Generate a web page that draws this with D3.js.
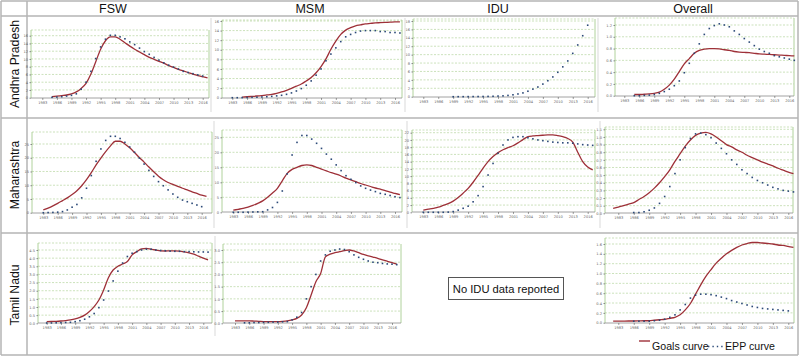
<!DOCTYPE html>
<html>
<head>
<meta charset="utf-8">
<script src="https://cdn.jsdelivr.net/npm/d3@7"></script>
<style>
  body { margin: 0; background: #fff; }
  svg { display: block; font-family: "Liberation Sans", Arial, sans-serif; }
</style>
</head>
<body>
<div id="chart"></div>
<script>
// ---- data (HIV prevalence, %), one value per year 1982..2017, null = no value
const years = d3.range(1982, 2018);
const xTickYears = [1983, 1986, 1989, 1992, 1995, 1998, 2001, 2004, 2007, 2010, 2013, 2016];
const states = ["Andhra Pradesh", "Maharashtra", "Tamil Nadu"];
const groups = ["FSW", "MSM", "IDU", "Overall"];

const apFswGoals = [null,null,null,0.26,0.4,0.55,0.7,1.0,1.5,2.4,3.7,6.1,9.3,12.5,14.7,15.7,15.7,15.1,14.2,13.3,12.5,11.8,11.1,10.4,9.9,9.4,8.9,8.3,7.8,7.3,6.9,6.5,6.1,5.7,5.4,5.1];
const apFswEpp   = [null,null,null,0.1,0.17,0.26,0.43,0.6,1.0,2.2,4.0,6.8,10.1,13.1,15.1,16.1,16.1,15.7,15.2,14.4,13.7,12.8,11.9,11.2,10.4,9.7,9.0,8.4,7.9,7.4,6.8,6.5,6.2,5.9,5.6,null];
const apMsmGoals = [null,null,null,0.14,0.2,0.27,0.35,0.45,0.57,0.7,0.92,1.2,1.55,1.95,2.4,2.85,3.5,4.2,5.2,6.5,8.1,10.1,11.8,13.2,14.1,14.6,15.0,15.2,15.4,15.5,15.6,15.65,15.7,15.75,15.8,15.8];
const apMsmEpp   = [null,0,0,0.02,0.05,0.08,0.1,0.15,0.2,0.28,0.38,0.5,0.7,1.0,1.4,1.9,2.6,3.5,4.7,6.0,7.7,9.1,10.4,11.7,12.7,13.2,13.6,13.9,14.0,14.0,14.0,13.8,13.8,13.6,13.6,13.5];
const apIduEpp   = [null,null,null,null,null,null,null,0,0.01,0.01,0.02,0.03,0.04,0.05,0.07,0.1,0.15,0.2,0.3,0.45,0.65,0.9,1.3,1.8,2.3,3.0,3.8,4.7,5.8,7.1,8.5,10.3,12.3,14.5,17.0,null];
const apAllGoals = [null,null,null,0.02,0.02,0.025,0.03,0.04,0.06,0.11,0.18,0.28,0.41,0.54,0.63,0.72,0.77,0.79,0.8,0.8,0.795,0.78,0.77,0.75,0.74,0.735,0.73,0.72,0.71,0.705,0.7,0.695,0.69,0.685,0.68,0.675];
const apAllEpp   = [null,null,null,0,0,0.005,0.01,0.02,0.04,0.07,0.11,0.17,0.25,0.39,0.55,0.72,0.88,1.04,1.14,1.19,1.22,1.2,1.17,1.1,1.04,0.97,0.91,0.85,0.79,0.75,0.72,0.68,0.66,0.64,0.62,0.6];

const mhFswGoals = [null,1.0,1.7,2.5,3.4,4.4,5.4,6.6,8.0,9.8,12.0,14.6,17.4,19.9,22.2,24.3,26.0,26.0,25.0,23.6,21.9,20.1,18.4,16.6,14.9,13.3,12.0,11.0,10.3,9.6,8.9,8.3,7.6,7.0,6.4,5.9];
const mhFswEpp   = [null,0,0.05,0.1,0.2,0.4,1.0,2.0,3.0,5.4,8.9,13.5,18.7,23.2,26.3,27.8,27.8,27.0,25.6,23.9,22.0,19.9,17.7,15.4,13.2,11.3,9.8,8.3,6.8,5.6,4.6,4.0,3.4,2.8,2.2,null];
const mhMsmGoals = [null,0.7,1.0,1.3,1.7,2.3,3.0,3.8,5.0,6.4,8.0,10.5,13.0,14.3,15.0,15.6,15.8,15.6,15.0,14.4,13.8,13.2,12.7,12.1,11.4,10.8,10.2,9.6,9.1,8.6,8.1,7.7,7.2,6.7,6.3,5.9];
const mhMsmEpp   = [null,0,0,0,0.05,0.1,0.15,0.2,0.8,1.6,3.3,7.1,12.8,19.1,23.3,25.6,25.6,24.4,23.0,21.3,19.4,17.7,15.8,13.9,12.2,11.0,9.9,8.8,8.0,7.4,6.9,6.3,6.0,5.6,5.2,4.9];
const mhIduGoals = [null,0.6,0.85,1.1,1.4,1.9,2.4,3.1,4.1,5.3,6.6,8.3,10.2,12.2,14.0,15.4,16.5,17.3,17.9,18.4,19.2,20.1,20.9,21.1,21.2,21.3,21.4,21.4,21.2,20.9,20.4,19.4,16.6,14.0,12.5,11.7];
const mhIduEpp   = [null,0,0,0,0,0,0.05,0.2,0.6,1.1,1.7,2.9,4.6,7.1,10.3,13.5,16.3,18.6,20.0,20.7,20.9,20.9,20.6,20.3,20.0,19.8,19.6,19.4,19.3,19.2,19.2,19.1,18.9,18.7,18.6,18.5];
const mhAllGoals = [0.065,0.08,0.1,0.12,0.14,0.18,0.22,0.27,0.33,0.4,0.48,0.57,0.68,0.78,0.88,0.96,1.02,1.05,1.06,1.04,1.0,0.95,0.9,0.87,0.83,0.8,0.76,0.73,0.7,0.67,0.645,0.62,0.59,0.565,0.54,0.52];
const mhAllEpp   = [null,null,null,null,0.01,0.01,0.02,0.04,0.07,0.13,0.22,0.35,0.52,0.7,0.86,0.98,1.04,1.05,1.03,0.99,0.92,0.85,0.78,0.7,0.64,0.57,0.52,0.47,0.43,0.4,0.37,0.34,0.32,0.3,0.29,0.28];

const tnFswGoals = [null,0.1,0.11,0.12,0.14,0.17,0.21,0.27,0.36,0.5,0.72,1.02,1.43,2.05,2.8,3.27,3.5,3.64,3.79,4.2,4.4,4.57,4.6,4.55,4.5,4.45,4.44,4.45,4.45,4.43,4.38,4.32,4.24,4.12,4.0,3.9];
const tnFswEpp   = [null,0.02,0.02,0.03,0.04,0.05,0.06,0.1,0.16,0.25,0.4,0.6,0.96,1.43,1.98,2.6,3.2,3.7,4.1,4.3,4.4,4.5,4.55,4.55,4.5,4.47,4.45,4.43,4.42,4.42,4.4,4.4,4.39,4.38,4.38,4.37];
const tnMsmGoals = [null,0.1,0.1,0.1,0.1,0.09,0.08,0.07,0.07,0.07,0.07,0.08,0.1,0.14,0.2,0.34,0.64,1.16,1.7,2.04,2.72,2.83,2.89,2.93,2.97,3.0,2.96,2.89,2.82,2.76,2.71,2.66,2.6,2.54,2.48,2.42];
const tnMsmEpp   = [null,null,null,0.02,0.02,0.03,0.03,0.04,0.04,0.05,0.05,0.06,0.07,0.14,0.25,0.44,1.0,1.5,2.0,2.55,2.8,2.95,3.0,3.04,3.02,2.93,2.8,2.7,2.62,2.55,2.5,2.48,2.45,2.43,2.42,2.4];
const tnAllGoals = [0.03,0.03,0.033,0.035,0.035,0.037,0.04,0.04,0.05,0.06,0.07,0.09,0.11,0.16,0.26,0.39,0.58,0.77,0.94,1.08,1.21,1.31,1.4,1.47,1.53,1.58,1.61,1.63,1.63,1.62,1.61,1.6,1.58,1.57,1.55,1.53];
const tnAllEpp   = [null,null,null,null,0.03,0.03,0.03,0.03,0.04,0.05,0.07,0.11,0.16,0.26,0.37,0.5,0.56,0.58,0.58,0.57,0.55,0.52,0.49,0.45,0.42,0.39,0.36,0.33,0.31,0.29,0.28,0.27,0.26,0.25,0.24,null];

// y tick labels per panel
const ticksStep2to16 = [0, 2, 4, 6, 8, 10, 12, 14, 16];
const ticksStep2to18 = [0, 2, 4, 6, 8, 10, 12, 14, 16, 18];
const ticksStep2to22 = [0, 2, 4, 6, 8, 10, 12, 14, 16, 18, 20, 22];
const ticksStep5to25 = [0, 5, 10, 15, 20, 25];
const ticksTenthTo11 = [0, 0.1, 0.2, 0.3, 0.4, 0.5, 0.6, 0.7, 0.8, 0.9, 1.0, 1.1];
const ticksFifthTo12 = [0, 0.2, 0.4, 0.6, 0.8, 1.0, 1.2];
const ticksFifthTo16 = [0, 0.2, 0.4, 0.6, 0.8, 1.0, 1.2, 1.4, 1.6];
const ticksHalfTo45  = [0, 0.5, 1.0, 1.5, 2.0, 2.5, 3.0, 3.5, 4.0, 4.5];
const ticksHalfTo30  = [0, 0.5, 1.0, 1.5, 2.0, 2.5, 3.0];

// ---- layout of each small chart (pixel positions in the page)
const panels = [
  {goals: apFswGoals, epp: apFswEpp, ticks: ticksStep2to16, fmt: "d",   L: 31,  R: 209, T: 30,  B: 98,  x83: 42.3,  x16: 202.7, y0: 97.7,  yTopPx: 35.7},
  {goals: apMsmGoals, epp: apMsmEpp, ticks: ticksStep2to16, fmt: "d",   L: 222, R: 402, T: 20,  B: 98,  x83: 232.3, x16: 395,   y0: 97.7,  yTopPx: 21},
  {goals: null,       epp: apIduEpp, ticks: ticksStep2to18, fmt: "d",   L: 413, R: 595, T: 19,  B: 97,  x83: 423.3, x16: 587.7, y0: 96.7,  yTopPx: 21},
  {goals: apAllGoals, epp: apAllEpp, ticks: ticksFifthTo12, fmt: ".1f", L: 615, R: 794, T: 18,  B: 96,  x83: 624.3, x16: 789.3, y0: 95.7,  yTopPx: 25},
  {goals: mhFswGoals, epp: mhFswEpp, ticks: ticksStep5to25, fmt: "d",   L: 32,  R: 212, T: 132, B: 213, x83: 43.3,  x16: 201.7, y0: 212.7, yTopPx: 144},
  {goals: mhMsmGoals, epp: mhMsmEpp, ticks: ticksStep5to25, fmt: "d",   L: 222, R: 402, T: 130, B: 212, x83: 233.3, x16: 395,   y0: 212.3, yTopPx: 137.3},
  {goals: mhIduGoals, epp: mhIduEpp, ticks: ticksStep2to22, fmt: "d",   L: 412, R: 595, T: 130, B: 212, x83: 423.3, x16: 587.7, y0: 212.3, yTopPx: 132.7},
  {goals: mhAllGoals, epp: mhAllEpp, ticks: ticksTenthTo11, fmt: ".1f", L: 605, R: 793, T: 127, B: 213, x83: 618.3, x16: 788.3, y0: 213.3, yTopPx: 129.3},
  {goals: tnFswGoals, epp: tnFswEpp, ticks: ticksHalfTo45,  fmt: ".1f", L: 38,  R: 212, T: 243, B: 323, x83: 46.7,  x16: 203.3, y0: 323.3, yTopPx: 250},
  {goals: tnMsmGoals, epp: tnMsmEpp, ticks: ticksHalfTo30,  fmt: ".1f", L: 223, R: 401, T: 244, B: 323, x83: 235,   x16: 392,   y0: 323.3, yTopPx: 250},
  {goals: tnAllGoals, epp: tnAllEpp, ticks: ticksFifthTo16, fmt: ".1f", L: 605, R: 794, T: 238, B: 323, x83: 618.3, x16: 788.3, y0: 322.7, yTopPx: 244}
];

const width = 800, height = 358;
const goalsColor = "#9e3038", eppColor = "#2c4a78", gridColor = "#a9cf8e";

const svg = d3.select("#chart").append("svg")
  .attr("width", width)
  .attr("height", height);

// faint edges of the pasted chart images
const edgeColor = "#d9d9d9";
const imageEdges = [
  [211, 18, 112], [405, 18, 112], [598, 18, 112],
  [214, 121, 228], [407, 121, 228], [600, 121, 228],
  [215, 236, 336]
];
imageEdges.forEach(e => svg.append("line").attr("x1", e[0]).attr("x2", e[0]).attr("y1", e[1]).attr("y2", e[2])
  .attr("stroke", edgeColor).attr("stroke-width", 1));

// table frame
const tableColor = "#b4b4b4";
const hLines = [1, 16, 118, 233, 355];
svg.selectAll("line.hrow").data(hLines).join("line")
  .attr("x1", 1).attr("x2", 798).attr("y1", d => d).attr("y2", d => d)
  .attr("stroke", tableColor).attr("stroke-width", 1.5);
[1, 27, 798].forEach(xp => {
  svg.append("line").attr("x1", xp).attr("x2", xp).attr("y1", 1).attr("y2", 355)
    .attr("stroke", tableColor).attr("stroke-width", 1.5);
});

// column headers
const headerX = [113, 310, 498, 693];
svg.selectAll("text.head").data(groups).join("text")
  .attr("x", (d, i) => headerX[i]).attr("y", 12.5)
  .attr("text-anchor", "middle").attr("font-size", 12.5).attr("fill", "#111")
  .text(d => d);

// row labels
const rowY = [64, 175, 295];
svg.selectAll("text.row").data(states).join("text")
  .attr("transform", (d, i) => `translate(19,${rowY[i]}) rotate(-90)`)
  .attr("text-anchor", "middle").attr("font-size", 12.2).attr("fill", "#111")
  .text(d => d);

// small charts
panels.forEach(p => {
  const g = svg.append("g");
  const x = d3.scaleLinear().domain([1983, 2016]).range([p.x83, p.x16]);
  const y = d3.scaleLinear().domain([0, p.ticks[p.ticks.length - 1]]).range([p.y0, p.yTopPx]);

  // dashed grid
  g.selectAll("line.grid").data(p.ticks.slice(1)).join("line")
    .attr("x1", p.L).attr("x2", p.R)
    .attr("y1", d => y(d)).attr("y2", d => y(d))
    .attr("stroke", gridColor).attr("stroke-width", 0.6).attr("stroke-dasharray", "2,1.5");
  g.append("line").attr("x1", p.L).attr("x2", p.R).attr("y1", p.T).attr("y2", p.T)
    .attr("stroke", gridColor).attr("stroke-width", 0.6).attr("stroke-dasharray", "2,1.5");
  // side lines
  [p.L, p.R].forEach(xp => g.append("line").attr("x1", xp).attr("x2", xp).attr("y1", p.T).attr("y2", p.B)
    .attr("stroke", "#9cc784").attr("stroke-width", 0.8));

  // y axis
  const ya = g.append("g").attr("transform", `translate(${p.L},0)`)
    .call(d3.axisLeft(y).tickValues(p.ticks).tickFormat(d3.format(p.fmt)).tickSize(1.5).tickPadding(1.5));
  ya.select(".domain").remove();
  ya.selectAll("line").attr("stroke", "#888");
  ya.selectAll("text").attr("font-size", 3.6).attr("fill", "#666").attr("font-family", "DejaVu Sans");

  // x axis
  const xa = g.append("g").attr("transform", `translate(0,${p.B})`)
    .call(d3.axisBottom(x).tickValues(xTickYears).tickFormat(d3.format("d")).tickSize(1.8).tickPadding(1.5).tickSizeOuter(0));
  xa.select(".domain").attr("d", `M${p.L},0H${p.R}`).attr("stroke", "#8a8a8a").attr("stroke-width", 0.8);
  xa.selectAll("line").attr("stroke", "#888");
  xa.selectAll("text").attr("font-size", 3.6).attr("fill", "#666").attr("font-family", "DejaVu Sans");

  // Goals curve
  if (p.goals) {
    const pts = years.map((yr, i) => [yr, p.goals[i]]).filter(d => d[1] !== null);
    g.append("path").datum(pts)
      .attr("fill", "none").attr("stroke", goalsColor).attr("stroke-width", 1.3)
      .attr("d", d3.line().curve(d3.curveMonotoneX).x(d => x(d[0])).y(d => y(d[1])));
  }
  // EPP points
  const dots = years.map((yr, i) => [yr, p.epp[i]]).filter(d => d[1] !== null);
  g.selectAll("rect.dot").data(dots).join("rect")
    .attr("x", d => x(d[0]) - 0.8).attr("y", d => y(d[1]) - 0.8)
    .attr("width", 1.6).attr("height", 1.6).attr("fill", eppColor);
});

// no data note
svg.append("rect").attr("x", 448.5).attr("y", 277.5).attr("width", 115).attr("height", 22)
  .attr("fill", "#fff").attr("stroke", "#555").attr("stroke-width", 1);
svg.append("text").attr("x", 506).attr("y", 292.5).attr("text-anchor", "middle")
  .attr("font-size", 11.2).attr("fill", "#111").text("No IDU data reported");

// legend
svg.append("line").attr("x1", 639).attr("x2", 650).attr("y1", 341).attr("y2", 341)
  .attr("stroke", goalsColor).attr("stroke-width", 1.4);
svg.append("text").attr("x", 652).attr("y", 350).attr("font-size", 10.6).attr("fill", "#111").text("Goals curve");
svg.append("line").attr("x1", 708).attr("x2", 723).attr("y1", 346.5).attr("y2", 346.5)
  .attr("stroke", eppColor).attr("stroke-width", 1.4).attr("stroke-dasharray", "1.4,3");
svg.append("text").attr("x", 725).attr("y", 350).attr("font-size", 10.6).attr("fill", "#111").text("EPP curve");
</script>
</body>
</html>
